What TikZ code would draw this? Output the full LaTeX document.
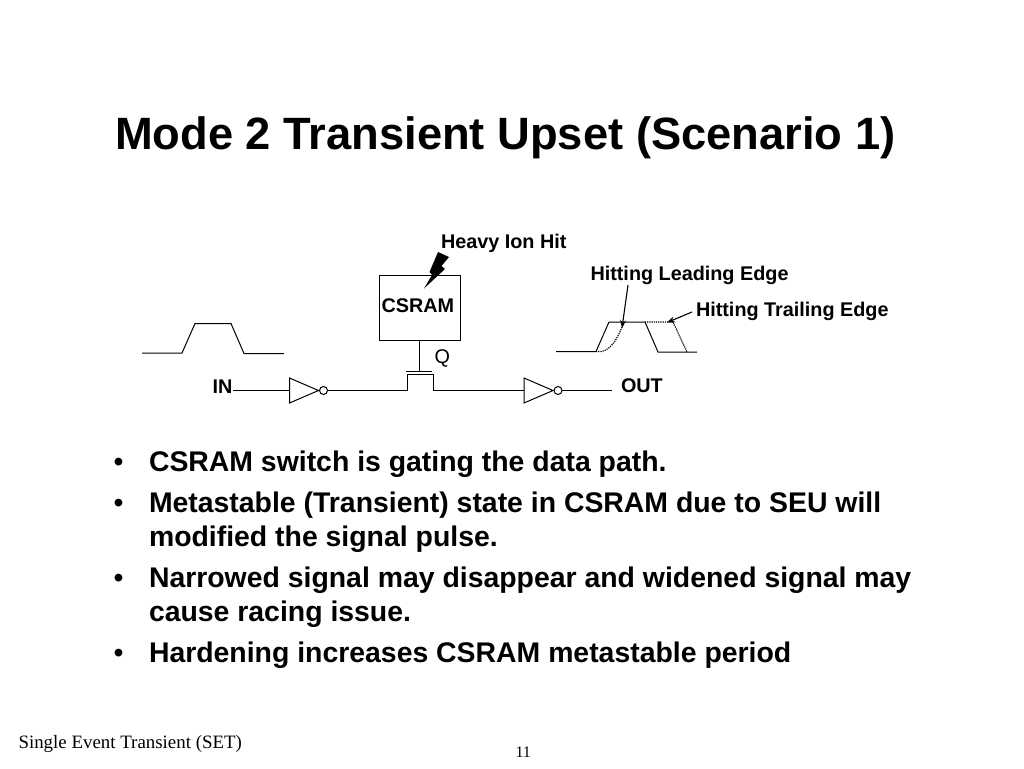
\documentclass[tikz,border=0pt]{standalone}
\usepackage{fontspec}
\setmainfont{Liberation Sans}
\newfontfamily\footfont{Liberation Serif}
\usetikzlibrary{positioning}
\usetikzlibrary{shapes.geometric}
\usetikzlibrary{arrows.meta}
\tikzset{
        % Text on the slide
        node_title/.style={anchor=base west, inner sep=0pt, font=\fontsize{45.3}{48}\selectfont\bfseries},
        node_bullet/.style={anchor=base west, inner sep=0pt, font=\fontsize{28.4}{34}\selectfont\bfseries},
        node_mark/.style={anchor=base west, inner sep=0pt, font=\fontsize{28.4}{34}\selectfont},
        node_foot/.style={anchor=base west, inner sep=0pt, font=\fontsize{18.9}{22}\selectfont\footfont},
        node_page/.style={anchor=base west, inner sep=0pt, font=\fontsize{16}{20}\selectfont\footfont},
        % Labels of the circuit
        node_label/.style={anchor=base west, inner sep=0pt, font=\fontsize{19.8}{22}\selectfont\bfseries},
        % Circuit parts
        node_inv/.style={isosceles triangle, isosceles triangle stretches, draw, inner sep=0pt, outer sep=0pt, minimum width=25pt, minimum height=29pt, anchor=apex},
        node_bubble/.style={circle, draw, inner sep=0pt, outer sep=0pt, minimum size=8pt},
        node_box/.style={rectangle, draw, inner sep=0pt, outer sep=0pt, minimum width=81pt, minimum height=65pt},
        wire/.style={line width=1pt},
        pointer/.style={line width=1.1pt, -{Stealth[length=8pt,width=6pt]}}
}
\begin{document}
\begin{tikzpicture}[x=1pt, y=-1pt, line width=1pt]
    \useasboundingbox (0,0) rectangle (1024,768);
    \node[node_title] (title) at (114.5,149.5) {Mode 2 Transient Upset (Scenario 1)};

    % CSRAM and the hit
    \node[node_box] (csram) at (419.5,307.5) {};
    \node[node_label] (csram_text) at (381,312.5) {CSRAM};
    \fill (438,252) -- (449,257) -- (441.5,266) -- (445,269) -- (424,288.5) -- (432,275) -- (429.5,272) -- cycle;
    \node[node_label] (hit) at (440.5,248) {Heavy Ion Hit};
    \node[node_label, font=\fontsize{19.8}{22}\selectfont] (q) at (434,363) {Q};

    % Data path
    \node[node_label] (in) at (212,393) {IN};
    \node[node_inv] (inv_a) at (318.5,390.5) {};
    \node[node_bubble] (bub_a) at (323.5,390.5) {};
    \node[node_inv] (inv_b) at (553,390.5) {};
    \node[node_bubble] (bub_b) at (558,390.5) {};
    \node[node_label] (out) at (620.5,392) {OUT};
    \coordinate (out_end) at (612,390.5);
    \coordinate (gate_l) at (406,371.5);
    \coordinate (gate_r) at (432,371.5);
    \coordinate (gate_m) at (419.5,371.5);
    \coordinate (src) at (407,390.5);
    \coordinate (drn) at (433,390.5);
    \draw[wire] (in.east |- inv_a.west) -- (inv_a.west);
    \draw[wire] (bub_a.east) -- (src) -- ++(0,-16) -- ++(26,0) -- (drn) -- (inv_b.west);
    \draw[wire] (bub_b.east) -- (out_end);
    \draw[wire, line width=1.3pt] (gate_l) -- (gate_r);
    \draw[wire] (csram.south) -- (gate_m);

    % Input pulse
    \draw[wire] (142,353) -- (182,353) -- (195,323.5) -- (231,323.5) -- (244,353.5) -- (284,353.5);
    % Output pulse
    \draw[wire] (556,351.5) -- (596,351.5) -- (609,322) -- (645,322) -- (658,352) -- (697,352);
    \draw[wire, line width=1.2pt, densely dotted] (596,351.5) .. controls (610,354) and (618,338) .. (624,322);
    \draw[wire, line width=1.2pt, densely dotted] (645,322) -- (673,322) -- (687,352);

    \node[node_label] (lead) at (590,280) {Hitting Leading Edge};
    \node[node_label] (trail) at (695.5,316) {Hitting Trailing Edge};
    \coordinate (lead_tip) at (622,328);
    \coordinate (trail_tip) at (667,322.5);
    \draw[pointer] (628,285) -- (lead_tip);
    \draw[pointer] (692,312) -- (trail_tip);

    % Bullets
    \node[node_mark] (m1) at (113,471.5) {•};
    \node[node_bullet] (b1) at (148.5,471) {CSRAM switch is gating the data path.};
    \node[node_mark] (m2) at (113,512.5) {•};
    \node[node_bullet] (b2) at (148.5,512) {Metastable (Transient) state in CSRAM due to SEU will};
    \node[node_bullet] (b2b) at (148.5,546) {modified the signal pulse.};
    \node[node_mark] (m3) at (113,587.5) {•};
    \node[node_bullet] (b3) at (148.5,587) {Narrowed signal may disappear and widened signal may};
    \node[node_bullet] (b3b) at (148.5,621) {cause racing issue.};
    \node[node_mark] (m4) at (113,662.5) {•};
    \node[node_bullet] (b4) at (148.5,662) {Hardening increases CSRAM metastable period};

    % Footer
    \node[node_foot] (foot) at (18,748) {Single Event Transient (SET)};
    \node[node_page] (page) at (515,757.5) {11};
\end{tikzpicture}
\end{document}
